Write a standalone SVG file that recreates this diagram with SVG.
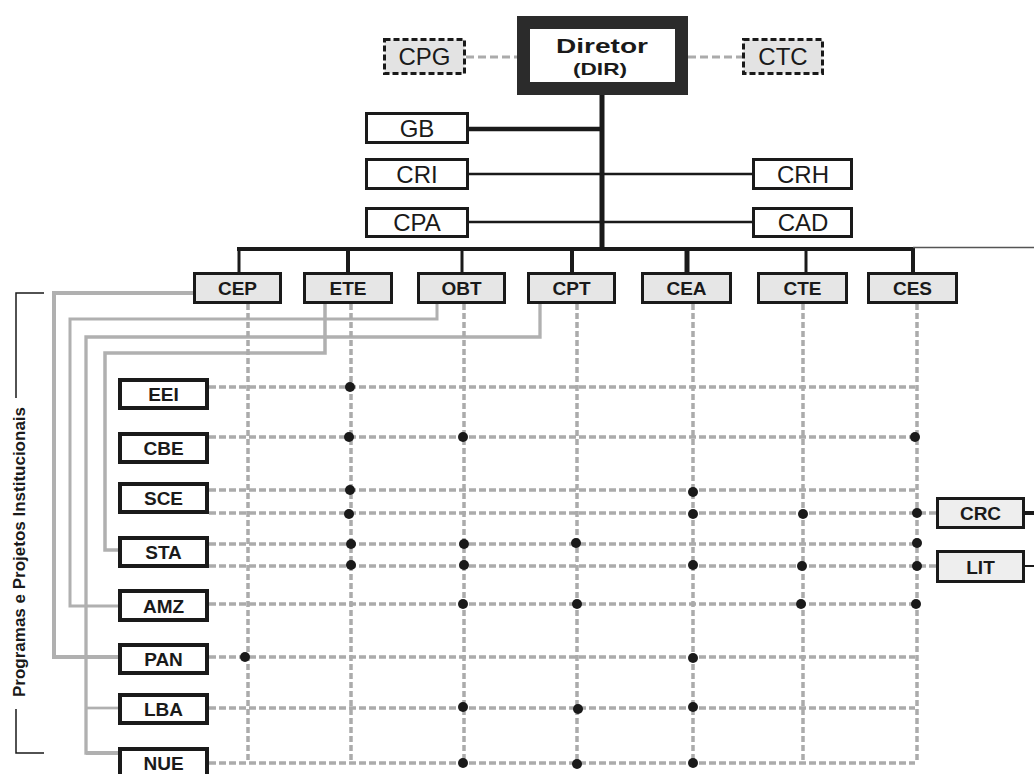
<svg xmlns="http://www.w3.org/2000/svg" width="1034" height="774" viewBox="0 0 1034 774">
<style>
.reg{font-family:"Liberation Sans",Arial,sans-serif;font-size:24px;fill:#1a1a1a;text-anchor:middle}
.bld{font-family:"Liberation Sans",Arial,sans-serif;font-weight:bold;font-size:19px;fill:#1a1a1a;text-anchor:middle}
.wbox{fill:#fff;stroke:#1a1a1a;stroke-width:3}
.pbox{fill:#fff;stroke:#1a1a1a;stroke-width:4}
.gbox{fill:#e6e6e6;stroke:#1a1a1a;stroke-width:3}
.dbox{fill:#e3e3e3;stroke:#1a1a1a;stroke-width:3;stroke-dasharray:6 3}
.solid{stroke:#1a1a1a;fill:none}
.route{stroke:#b0b0b0;fill:none}
.hd{stroke:#ababab;stroke-width:3.5;stroke-dasharray:7 3;fill:none}
.vd{stroke:#ababab;stroke-width:3.5;stroke-dasharray:6 3;fill:none}
.dot{fill:#1a1a1a}
</style>
<rect width="1034" height="774" fill="#fff"/>

<g id="connectors">
  <line x1="466" y1="57" x2="517" y2="57" stroke="#ababab" stroke-width="3" stroke-dasharray="8 4"/>
  <line x1="688" y1="57" x2="742" y2="57" stroke="#ababab" stroke-width="3" stroke-dasharray="8 4"/>
  <line class="solid" x1="602" y1="95" x2="602" y2="249" stroke-width="5"/>
  <line class="solid" x1="469" y1="129" x2="602" y2="129" stroke-width="4.5"/>
  <line class="solid" x1="469" y1="174" x2="752" y2="174" stroke-width="2.5"/>
  <line class="solid" x1="469" y1="222" x2="752" y2="222" stroke-width="2.5"/>
  <line class="solid" x1="237" y1="249" x2="915" y2="249" stroke-width="4"/>
  <line x1="913" y1="247.5" x2="1034" y2="247.5" stroke="#555" stroke-width="1.5"/>
  <line class="solid" x1="239" y1="249" x2="239" y2="272" stroke-width="3"/>
  <line class="solid" x1="348" y1="249" x2="348" y2="272" stroke-width="4"/>
  <line class="solid" x1="462" y1="249" x2="462" y2="272" stroke-width="3"/>
  <line class="solid" x1="572" y1="249" x2="572" y2="272" stroke-width="4"/>
  <line class="solid" x1="687" y1="247" x2="687" y2="272" stroke-width="5"/>
  <line class="solid" x1="806" y1="249" x2="806" y2="272" stroke-width="3"/>
  <line class="solid" x1="913" y1="249" x2="913" y2="272" stroke-width="4"/>
  <polyline class="route" stroke-width="4" points="193,293 54,293 54,657 118,657"/>
  <polyline class="route" stroke-width="3" points="437,304 437,319 70,319 70,606 118,606"/>
  <polyline class="route" stroke-width="3.3" points="540,304 540,337 86,337 86,753 118,753"/>
  <line class="route" stroke-width="4" x1="86" y1="753" x2="118" y2="753"/>
  <line class="route" stroke-width="2.7" x1="86" y1="708" x2="118" y2="708"/>
  <polyline class="route" stroke-width="3.5" points="325,304 325,353 105,353 105,550 118,550"/>
  <line class="vd" x1="248" y1="304" x2="248" y2="760"/>
  <line class="vd" x1="351" y1="304" x2="351" y2="760"/>
  <line class="vd" x1="464" y1="304" x2="464" y2="760"/>
  <line class="vd" x1="577" y1="304" x2="577" y2="760"/>
  <line class="vd" x1="693" y1="304" x2="693" y2="760"/>
  <line class="vd" x1="803" y1="304" x2="803" y2="760"/>
  <line class="vd" x1="917" y1="304" x2="917" y2="760"/>
  <line class="hd" x1="209" y1="387" x2="915" y2="387"/>
  <line class="hd" x1="209" y1="437" x2="915" y2="437"/>
  <line class="hd" x1="209" y1="490" x2="915" y2="490"/>
  <line class="hd" x1="209" y1="513" x2="936" y2="513"/>
  <line class="hd" x1="209" y1="544" x2="915" y2="544"/>
  <line class="hd" x1="209" y1="566" x2="936" y2="566"/>
  <line class="hd" x1="209" y1="604" x2="915" y2="604"/>
  <line class="hd" x1="209" y1="657" x2="915" y2="657"/>
  <line class="hd" x1="209" y1="708" x2="915" y2="708"/>
  <line class="hd" x1="209" y1="763" x2="915" y2="763"/>
  <line class="solid" x1="1025" y1="513" x2="1034" y2="513" stroke-width="4"/>
  <line class="solid" x1="1025" y1="566" x2="1034" y2="566" stroke-width="2"/>
  <circle class="dot" cx="350" cy="387" r="5"/>
  <circle class="dot" cx="349" cy="437" r="5"/>
  <circle class="dot" cx="463" cy="437" r="5"/>
  <circle class="dot" cx="915" cy="437" r="5"/>
  <circle class="dot" cx="350" cy="490" r="5"/>
  <circle class="dot" cx="693" cy="492" r="5"/>
  <circle class="dot" cx="349" cy="514" r="5"/>
  <circle class="dot" cx="693" cy="514" r="5"/>
  <circle class="dot" cx="803" cy="514" r="5"/>
  <circle class="dot" cx="917" cy="513" r="5"/>
  <circle class="dot" cx="351" cy="544" r="5"/>
  <circle class="dot" cx="464" cy="544" r="5"/>
  <circle class="dot" cx="576" cy="543" r="5"/>
  <circle class="dot" cx="917" cy="543" r="5"/>
  <circle class="dot" cx="351" cy="565" r="5"/>
  <circle class="dot" cx="464" cy="565" r="5"/>
  <circle class="dot" cx="693" cy="565" r="5"/>
  <circle class="dot" cx="802" cy="566" r="5"/>
  <circle class="dot" cx="917" cy="566" r="5"/>
  <circle class="dot" cx="463" cy="604" r="5"/>
  <circle class="dot" cx="577" cy="604" r="5"/>
  <circle class="dot" cx="801" cy="604" r="5"/>
  <circle class="dot" cx="916" cy="604" r="5"/>
  <circle class="dot" cx="245" cy="657" r="5"/>
  <circle class="dot" cx="693" cy="658" r="5"/>
  <circle class="dot" cx="463" cy="707" r="5"/>
  <circle class="dot" cx="578" cy="709" r="5"/>
  <circle class="dot" cx="693" cy="707" r="5"/>
  <circle class="dot" cx="463" cy="763" r="5"/>
  <circle class="dot" cx="577" cy="764" r="5"/>
  <circle class="dot" cx="693" cy="763" r="5"/>
</g>

<g id="DIR">
  <rect x="523.5" y="22.5" width="158" height="66" fill="#fff" stroke="#2b2b2b" stroke-width="13"/>
  <text x="602" y="53" font-family="Liberation Sans,Arial,sans-serif" font-weight="bold" font-size="21" fill="#1a1a1a" text-anchor="middle" textLength="92" lengthAdjust="spacingAndGlyphs">Diretor</text>
  <text x="600" y="75" font-family="Liberation Sans,Arial,sans-serif" font-weight="bold" font-size="17" fill="#1a1a1a" text-anchor="middle" textLength="54" lengthAdjust="spacingAndGlyphs">(DIR)</text>
</g>
<g id="CPG"><rect class="dbox" x="384.5" y="39.5" width="80" height="34"/><text class="reg" x="424.5" y="65">CPG</text></g>
<g id="CTC"><rect class="dbox" x="743.5" y="39.5" width="79" height="34"/><text class="reg" x="783" y="65">CTC</text></g>

<g id="GB"><rect class="wbox" x="366.5" y="113.5" width="101" height="29"/><text class="reg" x="417" y="137">GB</text></g>
<g id="CRI"><rect class="wbox" x="366.5" y="159.5" width="101" height="29"/><text class="reg" x="417" y="183">CRI</text></g>
<g id="CPA"><rect class="wbox" x="366.5" y="208.5" width="101" height="28"/><text class="reg" x="417" y="231">CPA</text></g>
<g id="CRH"><rect class="wbox" x="753.5" y="159.5" width="98" height="29"/><text class="reg" x="803" y="183">CRH</text></g>
<g id="CAD"><rect class="wbox" x="753.5" y="208.5" width="98" height="28"/><text class="reg" x="803" y="231">CAD</text></g>

<g id="CEP"><rect class="gbox" x="194.5" y="273.5" width="86" height="29"/><text class="bld" x="237.5" y="295">CEP</text></g>
<g id="ETE"><rect class="gbox" x="304.5" y="273.5" width="87" height="29"/><text class="bld" x="348" y="295">ETE</text></g>
<g id="OBT"><rect class="gbox" x="418.5" y="273.5" width="86" height="29"/><text class="bld" x="461.5" y="295">OBT</text></g>
<g id="CPT"><rect class="gbox" x="528.5" y="273.5" width="86" height="29"/><text class="bld" x="571.5" y="295">CPT</text></g>
<g id="CEA"><rect class="gbox" x="642.5" y="273.5" width="88" height="29"/><text class="bld" x="686.5" y="295">CEA</text></g>
<g id="CTE"><rect class="gbox" x="758.5" y="273.5" width="88" height="29"/><text class="bld" x="802.5" y="295">CTE</text></g>
<g id="CES"><rect class="gbox" x="868.5" y="273.5" width="88" height="29"/><text class="bld" x="912.5" y="295">CES</text></g>

<g id="EEI"><rect class="pbox" x="120" y="380" width="87" height="28"/><text class="bld" x="163.5" y="401">EEI</text></g>
<g id="CBE"><rect class="pbox" x="120" y="434" width="87" height="28"/><text class="bld" x="163.5" y="455">CBE</text></g>
<g id="SCE"><rect class="pbox" x="120" y="484" width="87" height="28"/><text class="bld" x="163.5" y="505">SCE</text></g>
<g id="STA"><rect class="pbox" x="120" y="538" width="87" height="28"/><text class="bld" x="163.5" y="559">STA</text></g>
<g id="AMZ"><rect class="pbox" x="120" y="591" width="87" height="29"/><text class="bld" x="163.5" y="612.5">AMZ</text></g>
<g id="PAN"><rect class="pbox" x="120" y="645" width="87" height="28"/><text class="bld" x="163.5" y="666">PAN</text></g>
<g id="LBA"><rect class="pbox" x="120" y="695" width="87" height="28"/><text class="bld" x="163.5" y="716">LBA</text></g>
<g id="NUE"><rect class="pbox" x="120" y="749" width="87" height="28"/><text class="bld" x="163.5" y="770">NUE</text></g>

<g id="CRC"><rect x="937.5" y="498.5" width="86" height="29" fill="#eeeeee" stroke="#1a1a1a" stroke-width="3"/><text class="bld" x="980.5" y="520">CRC</text></g>
<g id="LIT"><rect x="937.5" y="551.5" width="86" height="30" fill="#eeeeee" stroke="#1a1a1a" stroke-width="3"/><text class="bld" x="980.5" y="573.5">LIT</text></g>

<g id="label">
  <polyline points="44,293 16,293 16,398" fill="none" stroke="#1a1a1a" stroke-width="1.5"/>
  <polyline points="16,709 16,753 44,753" fill="none" stroke="#1a1a1a" stroke-width="1.5"/>
  <text transform="translate(25,552) rotate(-90)" font-family="Liberation Sans,Arial,sans-serif" font-weight="bold" font-size="17" fill="#1a1a1a" text-anchor="middle">Programas e Projetos Institucionais</text>
</g>
</svg>
